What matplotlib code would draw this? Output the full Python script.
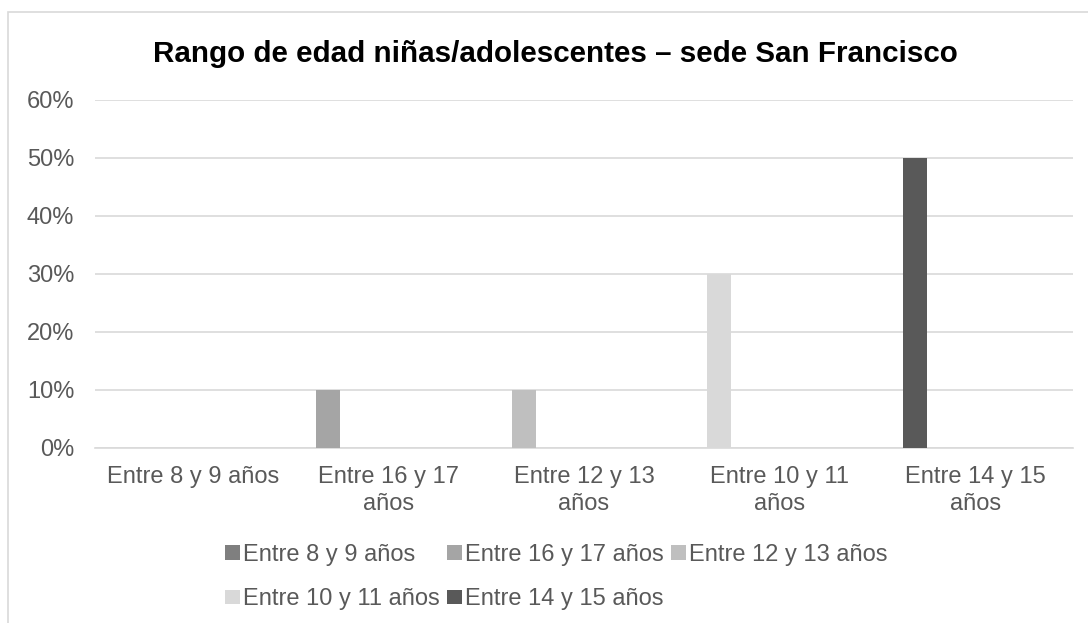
import matplotlib
matplotlib.use("Agg")
import matplotlib.pyplot as plt
from matplotlib.patches import Rectangle
from matplotlib.ticker import PercentFormatter

plt.rcParams['font.family'] = ['Liberation Sans', 'DejaVu Sans']

categories = ["Entre 8 y 9 años", "Entre 16 y 17\naños", "Entre 12 y 13\naños",
              "Entre 10 y 11\naños", "Entre 14 y 15\naños"]
series_names = ["Entre 8 y 9 años", "Entre 16 y 17 años", "Entre 12 y 13 años",
                "Entre 10 y 11 años", "Entre 14 y 15 años"]
values = [0.0, 0.10, 0.10, 0.30, 0.50]
colors = ["#7f7f7f", "#a5a5a5", "#bfbfbf", "#d9d9d9", "#595959"]
yticks = [0, 0.1, 0.2, 0.3, 0.4, 0.5, 0.6]

W, H = 1088, 623
fig = plt.figure(figsize=(W / 100, H / 100), dpi=100)
fig.patch.set_facecolor("white")

# outer chart frame
fig.patches.append(Rectangle((8 / W, -0.05), 1.1, 1 - 12 / H + 0.05, transform=fig.transFigure,
                             fill=False, edgecolor="#d9d9d9", linewidth=1.2))

ax = fig.add_axes([95 / W, 1 - 448 / H, (1073 - 95) / W, (448 - 99.5) / H])
text_color = "#595959"
grid_color = "#d9d9d9"

bar_w = 0.122
offset = -0.308
handles = []
for i, (name, v, c) in enumerate(zip(series_names, values, colors)):
    b = ax.bar(i + offset, v, width=bar_w, color=c, label=name, zorder=3)
    handles.append(b)

ax.set_xlim(-0.5, len(categories) - 0.5)
ax.set_ylim(0, 0.6)
ax.set_yticks(yticks)
ax.yaxis.set_major_formatter(PercentFormatter(1.0, decimals=0))
ax.set_xticks(range(len(categories)))
ax.set_xticklabels(categories, linespacing=1.32)
ax.grid(axis="y", color=grid_color, linewidth=1.2, zorder=0)
for s in ["top", "right", "left"]:
    ax.spines[s].set_visible(False)
ax.spines["bottom"].set_color(grid_color)
ax.spines["bottom"].set_linewidth(1.2)
ax.tick_params(axis="y", length=0, pad=15, labelsize=17, labelcolor=text_color)
ax.tick_params(axis="x", length=0, pad=13, labelsize=17, labelcolor=text_color)
for lbl in ax.get_xticklabels():
    lbl.set_verticalalignment("top")
    lbl.set_horizontalalignment("center")

fig.text(555 / W, 1 - 54 / H, "Rango de edad niñas/adolescentes – sede San Francisco",
         ha="center", va="center", fontsize=21.3, fontweight="bold", color="black")

order = [0, 3, 1, 4, 2]
leg = fig.legend([handles[k] for k in order], [series_names[k] for k in order],
                 loc="center left", bbox_to_anchor=(225 / W, 1 - 577 / H), ncol=3,
                 frameon=False, fontsize=17, handlelength=0.64, handleheight=0.55,
                 handletextpad=0.13, columnspacing=0.3, labelspacing=0.95, borderpad=0,
                 borderaxespad=0)
for t in leg.get_texts():
    t.set_color(text_color)

fig.savefig("out.png", dpi=100, facecolor="white")
